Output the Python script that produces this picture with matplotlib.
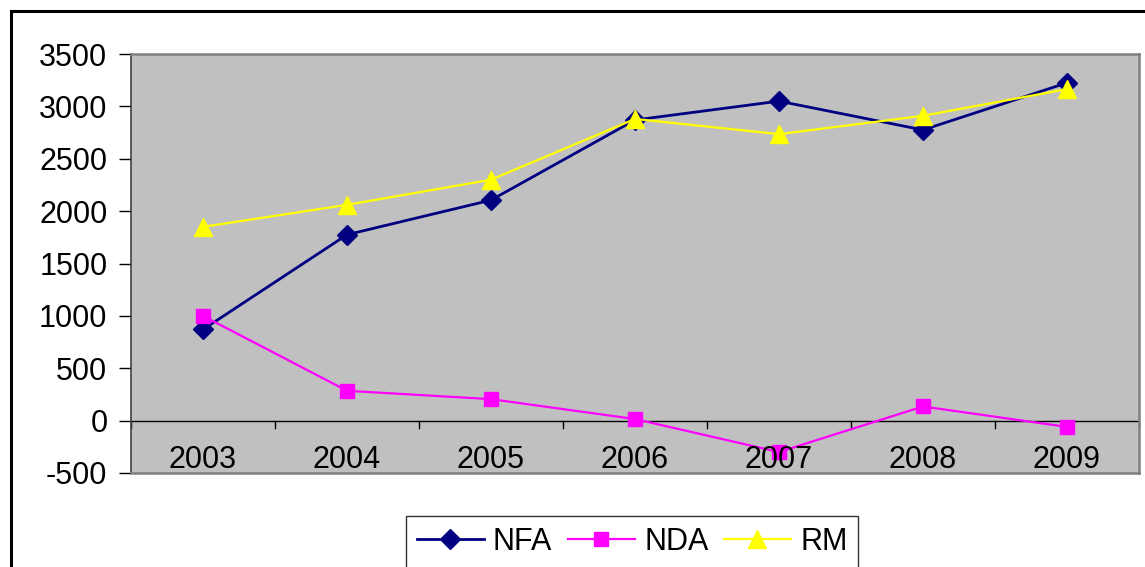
import matplotlib
matplotlib.use("Agg")
import matplotlib.pyplot as plt
from matplotlib.lines import Line2D

years = ["2003", "2004", "2005", "2006", "2007", "2008", "2009"]
nfa = [870, 1775, 2105, 2870, 3050, 2775, 3225]
nda = [1000, 285, 205, 15, -300, 135, -60]
rm = [1850, 2060, 2300, 2880, 2735, 2910, 3165]

plt.rcParams['font.family'] = ['Liberation Sans', 'DejaVu Sans']
plt.rcParams['axes.unicode_minus'] = False
FS = 22

W, H = 1145, 567
fig = plt.figure(figsize=(W / 100, H / 100), dpi=100)
fig.patch.set_facecolor("white")

# outer chart border
fig.add_artist(Line2D([11 / W, 11 / W], [0, 1 - 11 / H], color="black", lw=2.2, transform=fig.transFigure))
fig.add_artist(Line2D([11 / W, 1], [1 - 11 / H, 1 - 11 / H], color="black", lw=2.2, transform=fig.transFigure))

left, right, top, bottom = 131, 1139, 54, 473
ax = fig.add_axes([left / W, 1 - bottom / H, (right - left) / W, (bottom - top) / H])
ax.set_facecolor("#C0C0C0")

x = list(range(len(years)))
ax.plot(x, nfa, color="#000080", lw=2.0, marker="D", ms=10, mec="#000080", mfc="#000080", label="NFA", zorder=3)
ax.plot(x, nda, color="#FF00FF", lw=1.6, marker="s", ms=10.5, mec="#FF00FF", mfc="#FF00FF", label="NDA", zorder=3)
ax.plot(x, rm, color="#FFFF00", lw=1.6, marker="^", ms=13, mec="#FFFF00", mfc="#FFFF00", label="RM", zorder=3)

ax.set_xlim(-0.5, len(years) - 0.5)
ax.set_ylim(-500, 3500)
ax.set_yticks(range(-500, 3501, 500))
ax.tick_params(axis="y", direction="out", length=9, width=1, color="black", labelsize=FS, pad=8)
ax.set_xticks([])

# horizontal axis at zero with category-boundary ticks
ax.axhline(0, color="black", lw=1, zorder=2)
for b in [i + 0.5 for i in range(-1, len(years))]:
    ax.plot([b, b], [0, -75], color="black", lw=1, zorder=2, clip_on=False)
for xi, lab in zip(x, years):
    ax.text(xi, -375, lab, ha="center", va="center", fontsize=FS)

for s in ["top", "right", "bottom"]:
    ax.spines[s].set_color("#808080")
    ax.spines[s].set_linewidth(1.8)
ax.spines["left"].set_color("#404040")
ax.spines["left"].set_linewidth(1.2)

leg = fig.legend(loc="center", bbox_to_anchor=(632 / W, 1 - 542 / H), ncol=3, fontsize=FS,
                 frameon=True, fancybox=False, edgecolor="black", handlelength=2.2,
                 handletextpad=0.3, columnspacing=0.5, borderpad=0.35, borderaxespad=0)
leg.get_frame().set_linewidth(1.0)

fig.savefig("out.png", dpi=100, facecolor="white")
